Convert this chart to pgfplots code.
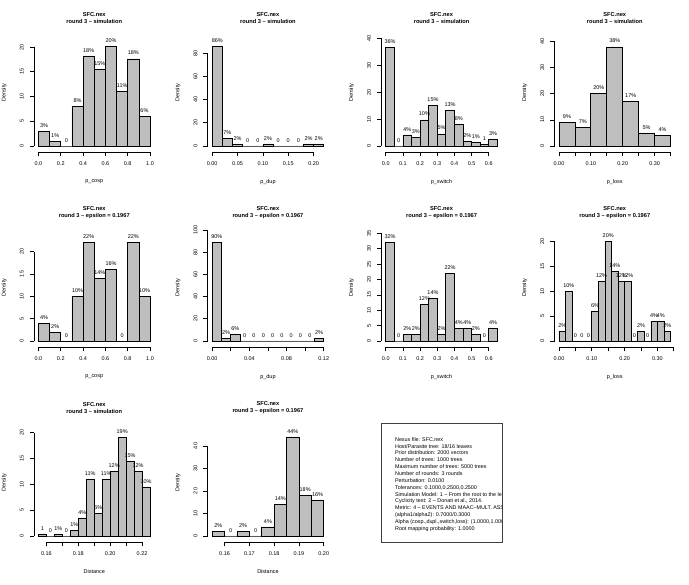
\documentclass[border=0pt]{standalone}
\usepackage{fontspec}
\setmainfont{Liberation Sans}
\usepackage{pgfplots}
\pgfplotsset{compat=1.18}

\definecolor{rgray}{HTML}{BEBEBE}
\newcommand{\tf}{\fontsize{5.5}{6.6}\selectfont}

% R-like axis lines: from first to last tick only
\newcommand{\rxaxis}[2]{\draw[line width=0.75bp] ({axis cs:#1,0}|-{rel axis cs:0,0}) -- ({axis cs:#2,0}|-{rel axis cs:0,0});}
\newcommand{\ryaxis}[1]{\draw[line width=0.75bp] ({rel axis cs:0,0}|-{axis cs:0,0}) -- ({rel axis cs:0,0}|-{axis cs:0,#1});}

\pgfplotsset{
  rhist/.style={
    scale only axis, width=120.5bp, height=118.5bp, anchor=south west,
    clip=false,
    axis x line*=bottom, axis y line*=left,
    axis line style={draw=none},
    tick align=outside, major tick length=4.3bp,
    every tick/.style={black, line width=0.7bp},
    tick label style={font=\tf},
    /pgf/number format/assume math mode=true,
    xticklabel style={anchor=center, yshift=-7bp},
    yticklabel style={anchor=center, xshift=-8bp, rotate=90},
    ylabel={Density},
    label style={font=\tf},
    xlabel style={at={(axis description cs:0.5,-0.251)}, anchor=center},
    ylabel style={at={(axis description cs:-0.247,0.5)}, anchor=center},
    title style={at={(axis description cs:0.5,1.076)}, anchor=south, align=center,
      yshift=-9bp, font=\bfseries\fontsize{5.7}{7.4}\selectfont},
    ybar,
    nodes near coords, point meta=explicit symbolic,
    every node near coord/.append style={font=\tf, inner sep=0pt, anchor=south, yshift=3.5bp, black},
  },
  hbar/.style={fill=rgray, draw=black, line width=0.7bp},
}

\begin{document}
\begin{tikzpicture}
\useasboundingbox (0,0) rectangle (689bp,585bp);

% ---------------- row 1: simulation
\begin{axis}[rhist, at={(34bp,433bp)},
  title={SFC.nex\\round 3 -- simulation}, xlabel={p\_cosp},
  xmin=-0.04, xmax=1.04, ymin=-1.21, ymax=22.73,
  xtick={0,0.2,...,1}, xticklabels={0.0,0.2,0.4,0.6,0.8,1.0},
  ytick={0,5,...,20}, bar width=0.1]
\addplot[hbar] table[x=x, y=y, meta=l] {
x y l
0.05 3 3\%
0.15 1 1\%
0.25 0 0
0.35 8 8\%
0.45 18.2 18\%
0.55 15.5 15\%
0.65 20.2 20\%
0.75 11 11\%
0.85 17.6 18\%
0.95 6 6\%
};
\rxaxis{0}{1}\ryaxis{20}
\end{axis}

\begin{axis}[rhist, at={(207.7bp,433bp)},
  title={SFC.nex\\round 3 -- simulation}, xlabel={p\_dup},
  xmin=-0.0088, xmax=0.2288, ymin=-5.18, ymax=97.15,
  xtick={0,0.05,...,0.2}, xticklabels={0.00,0.05,0.10,0.15,0.20},
  ytick={0,20,...,80}, bar width=0.02]
\addplot[hbar] table[x=x, y=y, meta=l] {
x y l
0.01 86 86\%
0.03 6.6 7\%
0.05 1.8 2\%
0.07 0 0
0.09 0 0
0.11 1.8 2\%
0.13 0 0
0.15 0 0
0.17 0 0
0.19 1.8 2\%
0.21 1.8 2\%
};
\rxaxis{0}{0.2}\ryaxis{80}
\end{axis}

\begin{axis}[rhist, at={(381.3bp,433bp)},
  title={SFC.nex\\round 3 -- simulation}, xlabel={p\_switch},
  xmin=-0.026, xmax=0.676, ymin=-2.23, ymax=41.82,
  xtick={0,0.1,...,0.6}, xticklabels={0.0,0.1,0.2,0.3,0.4,0.5,0.6},
  ytick={0,10,...,40}, bar width=0.05]
\addplot[hbar] table[x=x, y=y, meta=l] {
x y l
0.025 36.7 36\%
0.075 0 0
0.125 4.1 4\%
0.175 3.1 3\%
0.225 9.7 10\%
0.275 15.1 15\%
0.325 4.5 5\%
0.375 13.1 13\%
0.425 8.0 8\%
0.475 1.9 2\%
0.525 1.4 1\%
0.575 0.6 1
0.625 2.5 3\%
};
\rxaxis{0}{0.6}\ryaxis{40}
\end{axis}

\begin{axis}[rhist, at={(554.5bp,433bp)},
  title={SFC.nex\\round 3 -- simulation}, xlabel={p\_loss},
  xmin=-0.014, xmax=0.364, ymin=-2.30, ymax=43.14,
  xtick={0,0.05,...,0.35}, xticklabels={0.00,,0.10,,0.20,,0.30,},
  ytick={0,10,...,40}, bar width=0.05]
\addplot[hbar] table[x=x, y=y, meta=l] {
x y l
0.025 9 9\%
0.075 7 7\%
0.125 20 20\%
0.175 38 38\%
0.225 17 17\%
0.275 5 5\%
0.325 4 4\%
};
\rxaxis{0}{0.35}\ryaxis{40}
\end{axis}

% ---------------- row 2: epsilon
\begin{axis}[rhist, at={(34bp,238bp)},
  title={SFC.nex\\round 3 -- epsilon = 0.1967}, xlabel={p\_cosp},
  xmin=-0.04, xmax=1.04, ymin=-1.34, ymax=25.18,
  xtick={0,0.2,...,1}, xticklabels={0.0,0.2,0.4,0.6,0.8,1.0},
  ytick={0,5,...,20}, bar width=0.1]
\addplot[hbar] table[x=x, y=y, meta=l] {
x y l
0.05 4 4\%
0.15 2 2\%
0.25 0 0
0.35 10 10\%
0.45 22 22\%
0.55 14 14\%
0.65 16 16\%
0.75 0 0
0.85 22 22\%
0.95 10 10\%
};
\rxaxis{0}{1}\ryaxis{20}
\end{axis}

\begin{axis}[rhist, at={(207.7bp,238bp)},
  title={SFC.nex\\round 3 -- epsilon = 0.1967}, xlabel={p\_dup},
  xmin=-0.0048, xmax=0.1248, ymin=-5.41, ymax=101.35,
  xtick={0,0.02,...,0.12}, xticklabels={0.00,,0.04,,0.08,,0.12},
  ytick={0,20,...,100}, bar width=0.01]
\addplot[hbar] table[x=x, y=y, meta=l] {
x y l
0.005 89 90\%
0.015 2 2\%
0.025 6 6\%
0.035 0 0
0.045 0 0
0.055 0 0
0.065 0 0
0.075 0 0
0.085 0 0
0.095 0 0
0.105 0 0
0.115 2 2\%
};
\rxaxis{0}{0.12}\ryaxis{100}
\end{axis}

\begin{axis}[rhist, at={(381.3bp,238bp)},
  title={SFC.nex\\round 3 -- epsilon = 0.1967}, xlabel={p\_switch},
  xmin=-0.026, xmax=0.676, ymin=-1.95, ymax=36.57,
  xtick={0,0.1,...,0.6}, xticklabels={0.0,0.1,0.2,0.3,0.4,0.5,0.6},
  ytick={0,5,...,35}, bar width=0.05]
\addplot[hbar] table[x=x, y=y, meta=l] {
x y l
0.025 32 32\%
0.075 0 0
0.125 2 2\%
0.175 2 2\%
0.225 12 12\%
0.275 14 14\%
0.325 2 2\%
0.375 22 22\%
0.425 4 4\%
0.475 4 4\%
0.525 2 2\%
0.575 0 0
0.625 4 4\%
};
\rxaxis{0}{0.6}\ryaxis{35}
\end{axis}

\begin{axis}[rhist, at={(554.5bp,238bp)},
  title={SFC.nex\\round 3 -- epsilon = 0.1967}, xlabel={p\_loss},
  xmin=-0.0136, xmax=0.3536, ymin=-1.21, ymax=22.65,
  xtick={0,0.05,...,0.35}, xticklabels={0.00,,0.10,,0.20,,0.30,},
  ytick={0,5,...,20}, bar width=0.02]
\addplot[hbar] table[x=x, y=y, meta=l] {
x y l
0.01 2 2\%
0.03 10 10\%
0.05 0 0
0.07 0 0
0.09 0 0
0.11 6 6\%
0.13 12 12\%
0.15 20 20\%
0.17 14 14\%
0.19 12 12\%
0.21 12 12\%
0.23 0 0
0.25 2 2\%
0.27 0 0
0.29 4 4\%
0.31 4 4\%
0.33 2 2\%
};
\rxaxis{0}{0.35}\ryaxis{20}
\end{axis}

% ---------------- row 3: distance
\begin{axis}[rhist, at={(34bp,43bp)},
  title={SFC.nex\\round 3 -- simulation}, xlabel={Distance},
  xmin=0.1522, xmax=0.2278, ymin=-1.16, ymax=21.77,
  xtick={0.16,0.17,...,0.22}, xticklabels={0.16,,0.18,,0.20,,0.22},
  ytick={0,5,...,20}, bar width=0.005]
\addplot[hbar] table[x=x, y=y, meta=l] {
x y l
0.1575 0.4 1
0.1625 0 0
0.1675 0.4 1\%
0.1725 0 0
0.1775 1.0 1\%
0.1825 3.5 4\%
0.1875 11 11\%
0.1925 4.4 5\%
0.1975 11 11\%
0.2025 12.5 12\%
0.2075 19 19\%
0.2125 14.5 15\%
0.2175 12.5 12\%
0.2225 9.5 10\%
};
\rxaxis{0.16}{0.22}\ryaxis{20}
\end{axis}

\begin{axis}[rhist, at={(207.7bp,43bp)},
  title={SFC.nex\\round 3 -- epsilon = 0.1967}, xlabel={Distance},
  xmin=0.1532, xmax=0.2018, ymin=-2.67, ymax=50.0,
  xtick={0.16,0.17,...,0.2}, xticklabels={0.16,0.17,0.18,0.19,0.20},
  ytick={0,10,...,40}, bar width=0.005]
\addplot[hbar] table[x=x, y=y, meta=l] {
x y l
0.1575 2 2\%
0.1625 0 0
0.1675 2 2\%
0.1725 0 0
0.1775 4 4\%
0.1825 14 14\%
0.1875 44 44\%
0.1925 18 18\%
0.1975 16 16\%
};
\rxaxis{0.16}{0.2}\ryaxis{40}
\end{axis}

% ---------------- settings box
\begin{axis}[at={(381.3bp,43bp)}, anchor=south west, scale only axis,
  width=120.5bp, height=118.5bp, xmin=0, xmax=1, ymin=0, ymax=1,
  xtick=\empty, ytick=\empty, axis line style={line width=0.6bp, draw=black!75}]
\node[anchor=north west, align=left, inner sep=0pt,
  font=\fontsize{5.4}{6.88}\selectfont] at (rel axis cs:0.113,0.885) {%
Nexus file: SFC.nex\\
Host/Parasite tree: 18/16 leaves\\
Prior distribution: 2000 vectors\\
Number of trees: 1000 trees\\
Maximum number of trees: 5000 trees\\
Number of rounds: 3 rounds\\
Perturbation: 0.0100\\
Tolerances: 0.1000,0.2500,0.2500\\
Simulation Model: 1 -- From the root to the leaves\\
Cyclicity test: 2 -- Donati et al., 2014.\\
Metric: 4 -- EVENTS AND MAAC--MULT. ASSOC.\\
(alpha1/alpha2): 0.7000/0.3000\\
Alpha (cosp.,dupl.,switch,loss): (1.0000,1.0000,1.0000,1.0000)\\
Root mapping probability: 1.0000};
\end{axis}

\end{tikzpicture}
\end{document}
